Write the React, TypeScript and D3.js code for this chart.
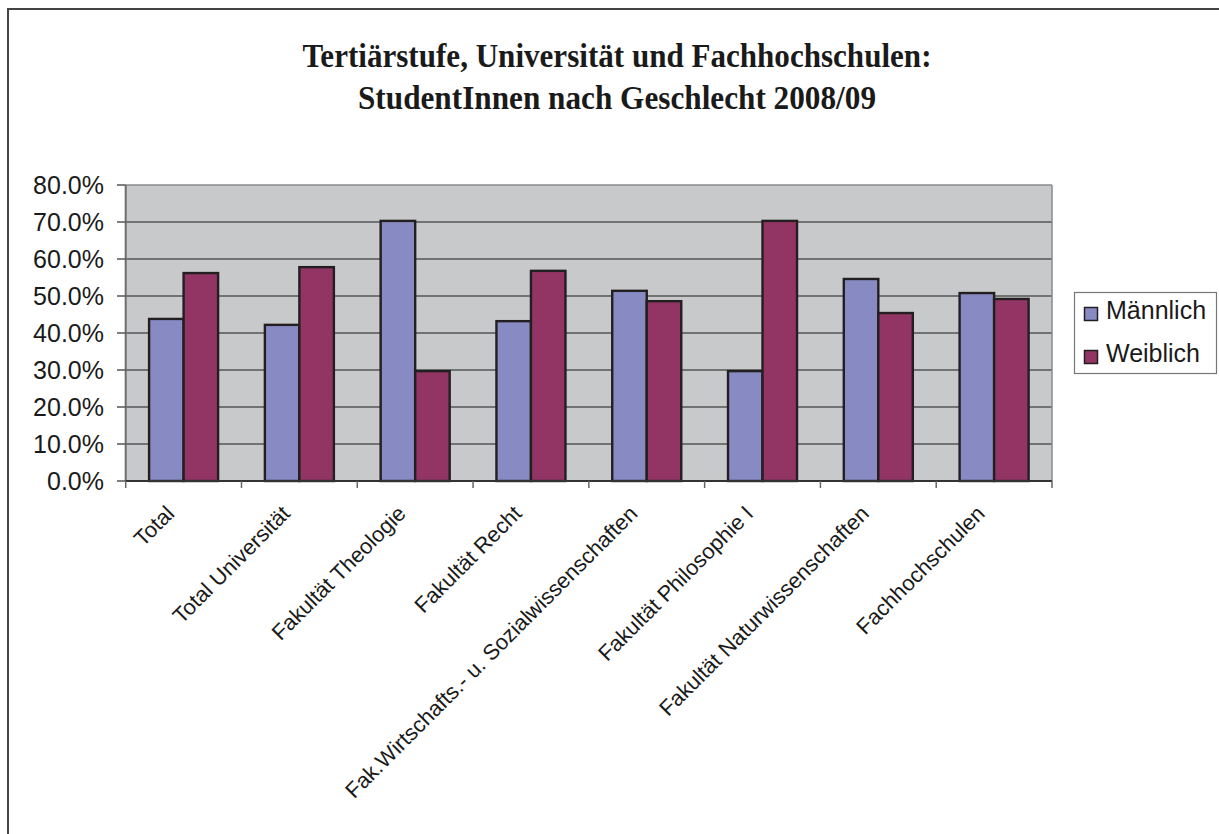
import * as d3 from "d3";

const categories = [
  "Total",
  "Total Universität",
  "Fakultät Theologie",
  "Fakultät Recht",
  "Fak.Wirtschafts.- u. Sozialwissenschaften",
  "Fakultät Philosophie I",
  "Fakultät Naturwissenschaften",
  "Fachhochschulen",
];
const seriesNames = ["Männlich", "Weiblich"];
const maennlich = [43.8, 42.2, 70.3, 43.2, 51.4, 29.7, 54.6, 50.8];
const weiblich = [56.2, 57.8, 29.7, 56.8, 48.6, 70.3, 45.4, 49.2];
const yTicks = [0, 10, 20, 30, 40, 50, 60, 70, 80];
const titleLines = [
  "Tertiärstufe, Universität und Fachhochschulen:",
  "StudentInnen nach Geschlecht 2008/09",
];

const colors = ["#888bc3", "#923565"];
const sans = "'Liberation Sans', Arial, sans-serif";

export default function App() {
  const left = 125.7;
  const right = 1052;
  const top = 185;
  const bottom = 481;

  const x0 = d3
    .scaleBand<string>()
    .domain(categories)
    .range([left, right])
    .paddingInner(0.404)
    .paddingOuter(0.202);
  const x1 = d3
    .scaleBand<string>()
    .domain(seriesNames)
    .range([0, x0.bandwidth()]);
  const y = d3.scaleLinear().domain([0, 80]).range([bottom, top]);
  const values = [maennlich, weiblich];
  const step = x0.step();

  return (
    <svg
      width={1219}
      height={834}
      style={{ position: "absolute", left: 0, top: 0, background: "#fff" }}
    >
      {/* outer chart frame, runs past the right/bottom edge */}
      <rect x={8} y={9} width={1240} height={860} fill="#fff" stroke="#444" strokeWidth={2} />

      {titleLines.map((t, i) => (
        <text
          key={t}
          x={617}
          y={67 + i * 42}
          textAnchor="middle"
          fontFamily="'Liberation Serif', 'Times New Roman', serif"
          fontWeight="bold"
          fontSize={33}
          textLength={i === 0 ? 629 : 518}
          lengthAdjust="spacingAndGlyphs"
          fill="#1a1a1a"
        >
          {t}
        </text>
      ))}

      {/* plot area */}
      <rect x={left} y={top} width={right - left} height={bottom - top} fill="#c8c9cb" />
      {yTicks.slice(1, -1).map((t) => (
        <line key={t} x1={left} x2={right} y1={y(t)} y2={y(t)} stroke="#555" strokeWidth={1.3} />
      ))}
      <line x1={left} x2={right} y1={top} y2={top} stroke="#8a8a8a" strokeWidth={1.5} />
      <line x1={right} x2={right} y1={top} y2={bottom} stroke="#8a8a8a" strokeWidth={1.5} />

      {categories.map((c, ci) =>
        seriesNames.map((s, si) => {
          const v = values[si][ci];
          return (
            <rect
              key={c + s}
              x={(x0(c) ?? 0) + (x1(s) ?? 0)}
              y={y(v)}
              width={x1.bandwidth()}
              height={y(0) - y(v)}
              fill={colors[si]}
              stroke="#231f20"
              strokeWidth={2.4}
            />
          );
        })
      )}

      {/* axes */}
      <line x1={left} x2={left} y1={top} y2={bottom} stroke="#6d6d6d" strokeWidth={2} />
      <line x1={left} x2={right} y1={bottom} y2={bottom} stroke="#333" strokeWidth={2} />
      {yTicks.map((t) => (
        <g key={t}>
          <line x1={117} x2={left} y1={y(t)} y2={y(t)} stroke="#555" strokeWidth={1.5} />
          <text
            x={104}
            y={y(t)}
            dy="0.35em"
            textAnchor="end"
            fontFamily={sans}
            fontSize={25}
            fill="#1a1a1a"
          >
            {t.toFixed(1)}%
          </text>
        </g>
      ))}
      {d3.range(categories.length + 1).map((i) => (
        <line
          key={i}
          x1={left + i * step}
          x2={left + i * step}
          y1={bottom}
          y2={bottom + 7}
          stroke="#666"
          strokeWidth={1.5}
        />
      ))}
      {categories.map((c) => {
        const cx = (x0(c) ?? 0) + x0.bandwidth() / 2 - 8;
        return (
          <text
            key={c}
            transform={`translate(${cx},${bottom + 34}) rotate(-45)`}
            textAnchor="end"
            fontFamily={sans}
            fontSize={21.8}
            fill="#1a1a1a"
          >
            {c}
          </text>
        );
      })}

      {/* legend */}
      <rect x={1074.5} y={292.5} width={142} height={81} fill="#fff" stroke="#777" strokeWidth={1.2} />
      {seriesNames.map((s, i) => (
        <g key={s} transform={`translate(0, ${i * 43})`}>
          <rect x={1084.5} y={307.5} width={13} height={13} fill={colors[i]} stroke="#231f20" strokeWidth={1.5} />
          <text x={1106} y={318.5} fontFamily={sans} fontSize={25} fill="#1a1a1a">
            {s}
          </text>
        </g>
      ))}
    </svg>
  );
}
